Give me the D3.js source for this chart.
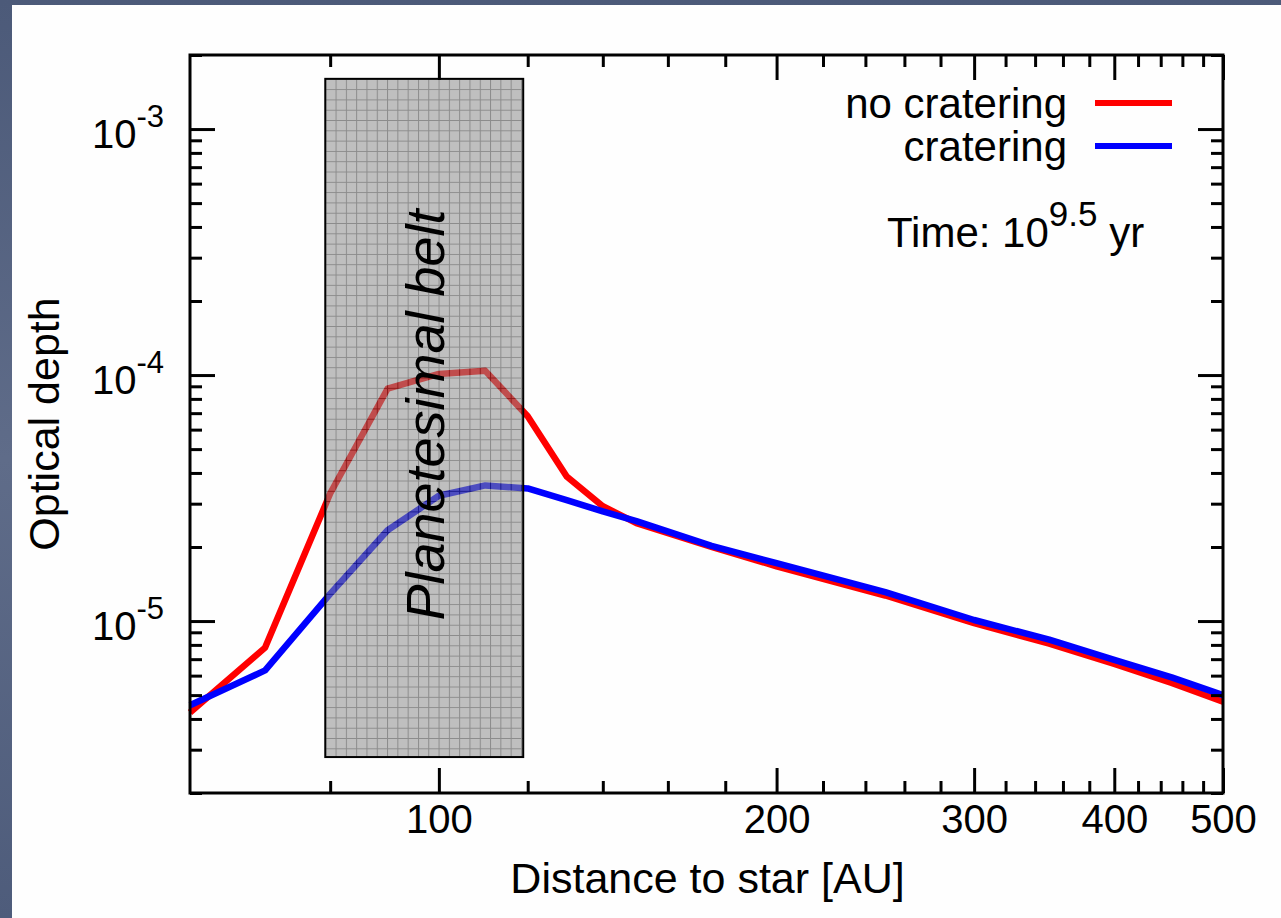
<!DOCTYPE html>
<html>
<head>
<meta charset="utf-8">
<script src="https://cdn.jsdelivr.net/npm/d3@7"></script>
<style>
  html, body { margin: 0; padding: 0; background: #56647f; }
  svg { display: block; }
  text { font-family: "Liberation Sans", Arial, Helvetica, sans-serif; fill: #000; }
</style>
</head>
<body>
<svg id="chart" width="1281" height="918"></svg>
<script>
// Radial grid points of the simulation [AU]
const distanceAU = [60, 70, 80, 90, 100, 110, 120, 130, 140, 150, 175, 200, 250, 300, 350, 400, 450, 500];
// Optical depth without cratering collisions
const noCratering = [4.25e-6, 7.8e-6, 3.3e-5, 8.8e-5, 1.01e-4, 1.04e-4, 6.8e-5, 3.87e-5, 2.93e-5,
                     2.5e-5, 2.0e-5, 1.67e-5, 1.27e-5, 9.8e-6, 8.1e-6, 6.7e-6, 5.6e-6, 4.7e-6];
// Optical depth with cratering collisions
const cratering = [4.55e-6, 6.3e-6, 1.29e-5, 2.34e-5, 3.23e-5, 3.56e-5, 3.46e-5, 3.1e-5, 2.79e-5,
                   2.55e-5, 2.02e-5, 1.72e-5, 1.31e-5, 1.01e-5, 8.4e-6, 6.95e-6, 5.9e-6, 5.0e-6];

const xMajorTicks = [100, 200, 300, 400, 500];
const yMajorTicks = [1e-3, 1e-4, 1e-5];
const yTickExponents = ["-3", "-4", "-5"];
const legendLabels = ["no cratering", "cratering"];
const seriesColors = ["#ff0000", "#0000ff"];
const beltRangeAU = [79.2, 118.9];
const beltDepthRange = [2.8e-6, 1.6e-3];

const W = 1281, H = 918;
const frame = { left: 190, right: 1223, top: 55, bottom: 793 };

const x = d3.scaleLog().domain([60, 500]).range([frame.left, frame.right]);
const y = d3.scaleLog().domain([2e-6, 2e-3]).range([frame.bottom, frame.top]);

const svg = d3.select("#chart");
const defs = svg.append("defs");

// slate backdrop with white sheet
const grad = defs.append("linearGradient").attr("id", "slate")
  .attr("x1", 0).attr("y1", 0).attr("x2", 0).attr("y2", 1);
grad.append("stop").attr("offset", "0%").attr("stop-color", "#4c5a79");
grad.append("stop").attr("offset", "50%").attr("stop-color", "#5f6c89");
grad.append("stop").attr("offset", "100%").attr("stop-color", "#4e5c7b");
svg.append("rect").attr("width", W).attr("height", H).attr("fill", "url(#slate)");
svg.append("rect").attr("x", 12).attr("y", 5).attr("width", W - 12).attr("height", H - 5).attr("fill", "#fefefe");

// grid-hatched fill for the belt region
const cell = 10.3;
const pat = defs.append("pattern").attr("id", "beltGrid")
  .attr("patternUnits", "userSpaceOnUse")
  .attr("width", cell).attr("height", cell)
  .attr("x", x(beltRangeAU[0])).attr("y", y(beltDepthRange[1]));
pat.append("rect").attr("width", cell).attr("height", cell).attr("fill", "#8c8c8c");
pat.append("path").attr("d", `M0,0.5H${cell}M0.5,0V${cell}`)
  .attr("stroke", "#2e2e2e").attr("stroke-width", 1);

// curves
const line = d3.line().x((d, i) => x(distanceAU[i])).y(d => y(d));
[noCratering, cratering].forEach((series, k) => {
  svg.append("path").datum(series)
    .attr("d", line)
    .attr("fill", "none")
    .attr("stroke", seriesColors[k])
    .attr("stroke-width", 6.5)
    .attr("stroke-linejoin", "round");
});

// planetesimal belt overlay
const bx0 = x(beltRangeAU[0]), bx1 = x(beltRangeAU[1]);
const by0 = y(beltDepthRange[1]), by1 = y(beltDepthRange[0]);
svg.append("g").attr("opacity", 0.55)
  .append("rect").attr("x", bx0).attr("y", by0)
  .attr("width", bx1 - bx0).attr("height", by1 - by0)
  .attr("fill", "url(#beltGrid)");
svg.append("rect").attr("x", bx0).attr("y", by0)
  .attr("width", bx1 - bx0).attr("height", by1 - by0)
  .attr("fill", "none").attr("stroke", "#000").attr("stroke-width", 2);
svg.append("text")
  .attr("transform", `translate(444,415) rotate(-90)`)
  .attr("text-anchor", "middle")
  .attr("font-style", "italic")
  .attr("font-size", 54)
  .text("Planetesimal belt");

// axes with inward ticks on all four sides
const xMinor = d3.range(80, 500, 20).filter(v => v % 100 !== 0);
const yMinor = [];
[-6, -5, -4, -3].forEach(e => d3.range(2, 10).forEach(m => {
  const v = m * Math.pow(10, e);
  if (v >= 2e-6 && v <= 2e-3) yMinor.push(v);
}));

function styleAxis(g) {
  g.select(".domain").remove();
  g.selectAll(".tick line").attr("stroke", "#000").attr("stroke-width", 3);
}

svg.append("g").attr("transform", `translate(0,${frame.bottom})`)
  .call(d3.axisBottom(x).tickValues(xMajorTicks).tickSize(-25).tickPadding(12).tickFormat(d3.format("d")))
  .call(styleAxis)
  .call(g => g.selectAll("text").attr("font-size", 40).attr("font-family", null).attr("fill", "#000"));
svg.append("g").attr("transform", `translate(0,${frame.bottom})`)
  .call(d3.axisBottom(x).tickValues(xMinor).tickSize(-12).tickFormat(""))
  .call(styleAxis);
svg.append("g").attr("transform", `translate(0,${frame.top})`)
  .call(d3.axisTop(x).tickValues(xMajorTicks).tickSize(-25).tickFormat(""))
  .call(styleAxis);
svg.append("g").attr("transform", `translate(0,${frame.top})`)
  .call(d3.axisTop(x).tickValues(xMinor).tickSize(-12).tickFormat(""))
  .call(styleAxis);

const yLeft = svg.append("g").attr("transform", `translate(${frame.left},0)`)
  .call(d3.axisLeft(y).tickValues(yMajorTicks).tickSize(-25).tickFormat(""))
  .call(styleAxis);
svg.append("g").attr("transform", `translate(${frame.left},0)`)
  .call(d3.axisLeft(y).tickValues(yMinor).tickSize(-12).tickFormat(""))
  .call(styleAxis);
svg.append("g").attr("transform", `translate(${frame.right},0)`)
  .call(d3.axisRight(y).tickValues(yMajorTicks).tickSize(-25).tickFormat(""))
  .call(styleAxis);
svg.append("g").attr("transform", `translate(${frame.right},0)`)
  .call(d3.axisRight(y).tickValues(yMinor).tickSize(-12).tickFormat(""))
  .call(styleAxis);

// power-of-ten labels on the y axis
yLeft.selectAll(".tick text").remove();
yLeft.selectAll(".tick").each(function (d, i) {
  const t = d3.select(this).append("text")
    .attr("x", -26).attr("y", 18)
    .attr("text-anchor", "end")
    .attr("font-size", 40);
  t.append("tspan").text("10");
  t.append("tspan").attr("dy", -21).attr("font-size", 31).text(yTickExponents[i]);
});

// frame
svg.append("rect")
  .attr("x", frame.left).attr("y", frame.top)
  .attr("width", frame.right - frame.left).attr("height", frame.bottom - frame.top)
  .attr("fill", "none").attr("stroke", "#000").attr("stroke-width", 3);

// legend
legendLabels.forEach((label, k) => {
  const yy = 103 + k * 43;
  svg.append("text").attr("x", 1067).attr("y", yy + 15)
    .attr("text-anchor", "end").attr("font-size", 42).text(label);
  svg.append("line").attr("x1", 1095).attr("x2", 1172).attr("y1", yy).attr("y2", yy)
    .attr("stroke", seriesColors[k]).attr("stroke-width", 6);
});

// time annotation
const tt = svg.append("text").attr("x", 887).attr("y", 247).attr("font-size", 42);
tt.append("tspan").text("Time: 10");
tt.append("tspan").attr("dy", -21).attr("font-size", 35).text("9.5");
tt.append("tspan").attr("dy", 21).text(" yr");

// axis titles
svg.append("text").attr("x", (frame.left + frame.right) / 2 + 1).attr("y", 893)
  .attr("text-anchor", "middle").attr("font-size", 43)
  .text("Distance to star [AU]");
svg.append("text")
  .attr("transform", `translate(59,${(frame.top + frame.bottom) / 2}) rotate(-90)`)
  .attr("text-anchor", "middle").attr("font-size", 43)
  .text("Optical depth");
</script>
</body>
</html>
